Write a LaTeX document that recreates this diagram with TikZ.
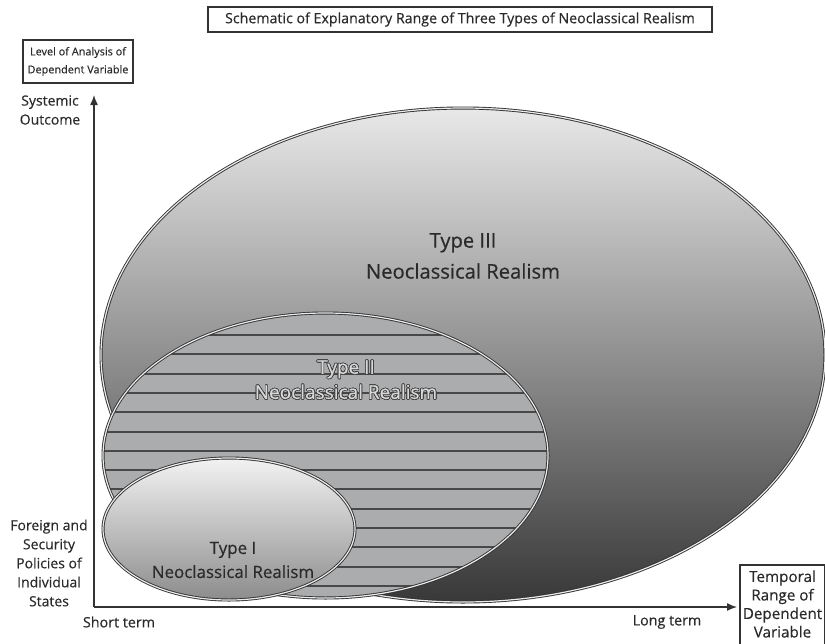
\documentclass[tikz,border=0pt]{standalone}
\usepackage{fontspec}
\setmainfont{Open Sans}[FakeBold=0.35]
\usepackage[copies]{contour}
\contourlength{0.7pt}
\usetikzlibrary{arrows.meta}
\definecolor{inkc}{HTML}{2A2A2A}
\definecolor{edgec}{HTML}{333333}
\definecolor{hatchc}{HTML}{484848}
\definecolor{midfill}{HTML}{ABACAE}
\begin{document}
\begin{tikzpicture}[x=1pt,y=-1pt,
  lab/.style={font=\fontsize{14.3}{19}\selectfont, align=center, inner sep=0pt, text=inkc},
  framebox/.style={draw=edgec, line width=1.6pt, inner sep=0pt},
  ring/.style={draw=edgec, line width=0.9pt, double=white!92!black, double distance=1.2pt},
  axisline/.style={draw=edgec, line width=1.4pt, -{Latex[length=10pt,width=8pt]}},
  typetext/.style={align=center, inner sep=0pt, text=inkc}
]
\useasboundingbox (0,0) rectangle (825,643);

% Type III ellipse
\path[ring, top color=white!91!black, bottom color=black!78] (463,355) ellipse [x radius=362, y radius=247];

% Type II ellipse with hatch
\fill[midfill] (325.5,455.5) ellipse [x radius=222.5, y radius=142.5];
\begin{scope}
  \clip (325.5,455.5) ellipse [x radius=222.5, y radius=142.5];
  \foreach \yy in {335,354,374,393,412,432,451,470,489,509,528,547,567,586} {
    \draw[hatchc, line width=2pt] (100,\yy) -- (560,\yy);
  }
\end{scope}
\draw[ring] (325.5,455.5) ellipse [x radius=222.5, y radius=142.5];

% Type I ellipse
\path[ring, top color=white!95!black, bottom color=black!45] (229,529) ellipse [x radius=126, y radius=71];

% texts in ellipses
\node[typetext, font=\fontsize{20.2}{31}\selectfont] (t3) at (463,256) {Type III\\Neoclassical Realism};
\node[typetext, font=\fontsize{19}{25}\selectfont, text=white!85!black] (t2) at (346,380) {\contour{black!75}{Type II}\\\contour{black!75}{Neoclassical Realism}};
\node[typetext, font=\fontsize{16.9}{24}\selectfont] (t1) at (233,560) {Type I\\Neoclassical Realism};

% axes
\coordinate (O) at (94,607);
\coordinate (ytip) at (94,95);
\coordinate (xtip) at (737,607);
\draw[axisline] (O) -- (ytip);
\draw[axisline] (O) -- (xtip);

% title
\node[framebox, minimum width=504pt, minimum height=25pt, font=\fontsize{14.2}{15}\selectfont, text=inkc] (title) at (460,19.5) {Schematic of Explanatory Range of Three Types of Neoclassical Realism};

% level box
\node[framebox, minimum width=110pt, minimum height=43pt, align=center, font=\fontsize{10.9}{18}\selectfont, text=inkc] (level) at (78,61.5) {Level of Analysis of\\Dependent Variable};

% temporal box
\draw[framebox] (740,565) rectangle (825,652);
\node[lab, font=\fontsize{15.2}{18.5}\selectfont] (temporal) at (782.5,604) {Temporal\\Range of\\Dependent\\Variable};

% axis labels
\node[lab, font=\fontsize{14}{19}\selectfont] (sys) at (50,110) {Systemic\\Outcome};
\node[lab, font=\fontsize{14}{19}\selectfont] (fsp) at (49,563) {Foreign and\\Security\\Policies of\\Individual\\States};
\node[lab] (short) at (119,622) {Short term};
\node[lab] (long) at (667,622) {Long term};
\end{tikzpicture}
\end{document}
